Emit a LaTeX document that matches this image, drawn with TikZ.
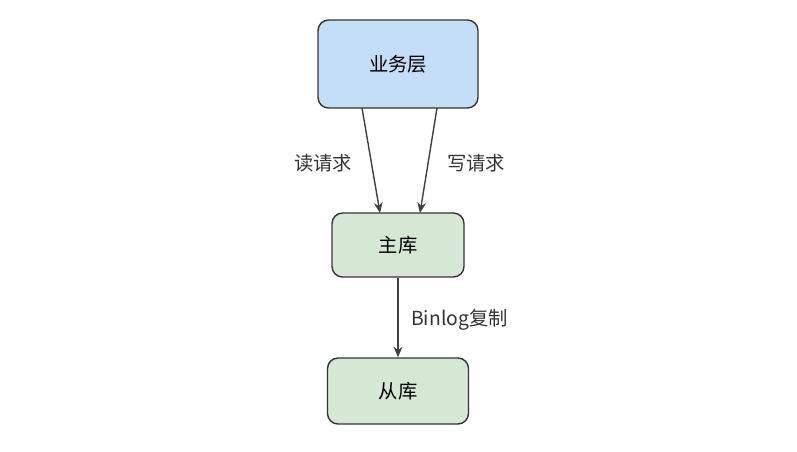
\documentclass[tikz,border=0pt]{standalone}
\usepackage{fontspec}
\setmainfont{Noto Sans CJK SC}
\usetikzlibrary{arrows.meta}
\definecolor{bluebox}{HTML}{C4DEF8}
\definecolor{greenbox}{HTML}{D5E8D4}
\tikzset{
  box/.style={draw=black!80,thick,rounded corners=6pt,font=\fontsize{11}{13}\selectfont},
  conn/.style={draw=black!75,thick,-{Stealth[length=6pt,width=5pt]}},
  lbl/.style={font=\fontsize{11}{13}\selectfont,text=black!80}
}
\begin{document}
\begin{tikzpicture}[x=0.02cm,y=-0.02cm]
\useasboundingbox (0,0) rectangle (797,451);
\node[box,fill=bluebox,minimum width=3.2cm,minimum height=1.76cm] (biz) at (398,64) {业务层};
\node[box,fill=greenbox,minimum width=2.64cm,minimum height=1.28cm] (master) at (398,245) {主库};
\node[box,fill=greenbox,minimum width=2.82cm,minimum height=1.32cm] (slave) at (398,391) {从库};
\coordinate (r1) at (362,108);
\coordinate (r2) at (380,213);
\coordinate (w1) at (437,108);
\coordinate (w2) at (420,213);
\draw[conn] (r1) -- (r2);
\draw[conn] (w1) -- (w2);
\draw[conn] (master) -- (slave);
\node[lbl] (readlbl) at (323,163) {读请求};
\node[lbl] (writelbl) at (476,163) {写请求};
\node[lbl,anchor=west] (binlbl) at (405,320) {Binlog复制};
\end{tikzpicture}
\end{document}
